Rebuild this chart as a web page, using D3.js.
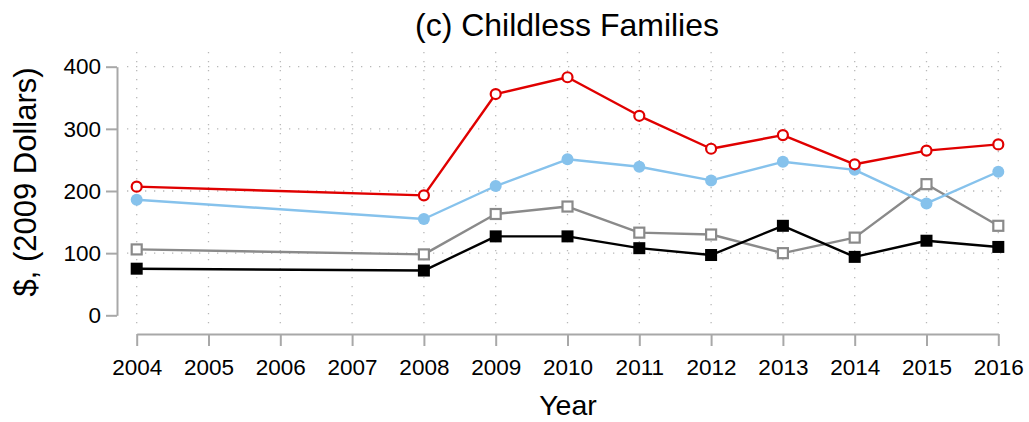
<!DOCTYPE html>
<html>
<head>
<meta charset="utf-8">
<script src="https://cdn.jsdelivr.net/npm/d3@7"></script>
<style>
  html, body { margin: 0; padding: 0; background: #fff; }
  svg { display: block; font-family: "Liberation Sans", Arial, sans-serif; }
</style>
</head>
<body>
<svg id="chart" width="1029" height="422"></svg>
<script>
// Years on the x axis (ticks) and years with observations
const tickYears = [2004, 2005, 2006, 2007, 2008, 2009, 2010, 2011, 2012, 2013, 2014, 2015, 2016];
const years = [2004, 2008, 2009, 2010, 2011, 2012, 2013, 2014, 2015, 2016];
const yTicks = [0, 100, 200, 300, 400];

// Series values, $ (2009 dollars)
const redSeries   = [207, 193, 356, 383, 321, 268, 290, 243, 265, 275];
const blueSeries  = [186, 155, 208, 251, 239, 217, 247, 234, 180, 231];
const graySeries  = [106,  98, 163, 175, 133, 130, 100, 125, 211, 144];
const blackSeries = [ 75,  72, 127, 127, 108,  97, 144,  94, 120, 110];

const series = [
  { values: graySeries,  color: "#8a8a8a", marker: "squareOpen" },
  { values: blackSeries, color: "#000000", marker: "squareFilled" },
  { values: blueSeries,  color: "#86c2ec", marker: "circleFilled" },
  { values: redSeries,   color: "#e00000", marker: "circleOpen" }
];

const svg = d3.select("#chart");

const x = d3.scaleLinear().domain([2004, 2016]).range([136.7, 998.3]);
const y = d3.scaleLinear().domain([0, 400]).range([315.3, 66.7]);

// Dotted grid
const grid = svg.append("g");
grid.selectAll("line.v").data(tickYears).join("line")
  .attr("x1", d => x(d)).attr("x2", d => x(d))
  .attr("y1", 52).attr("y2", 328)
  .attr("stroke", "#b8b8b8").attr("stroke-width", 1.3)
  .attr("stroke-dasharray", "1.3,7.7");
grid.selectAll("line.h").data(yTicks.filter(d => d > 0)).join("line")
  .attr("x1", 127).attr("x2", 1006)
  .attr("y1", d => y(d)).attr("y2", d => y(d))
  .attr("stroke", "#b8b8b8").attr("stroke-width", 1.3)
  .attr("stroke-dasharray", "1.3,7.7");

// Axes
const axisColor = "#a8a8a8";
const yAxis = svg.append("g").attr("transform", "translate(117,0)")
  .call(d3.axisLeft(y).tickValues(yTicks).tickSize(11).tickPadding(5).tickSizeOuter(0));
const xAxis = svg.append("g").attr("transform", "translate(0,334)")
  .call(d3.axisBottom(x).tickValues(tickYears).tickFormat(d3.format("d")).tickSize(12).tickPadding(13).tickSizeOuter(0));
[yAxis, xAxis].forEach(a => {
  a.select(".domain").attr("stroke", axisColor).attr("stroke-width", 2);
  a.selectAll(".tick line").attr("stroke", axisColor).attr("stroke-width", 2);
  a.selectAll(".tick text").attr("fill", "#000").style("font-size", "22.5px")
    .style("font-family", "'Liberation Sans', Arial, sans-serif");
});
xAxis.selectAll(".tick text").attr("dy", "0.71em");

// Lines and markers
const line = d3.line().x((d, i) => x(years[i])).y(d => y(d));
series.forEach(s => {
  const g = svg.append("g");
  g.append("path").datum(s.values)
    .attr("d", line).attr("fill", "none")
    .attr("stroke", s.color).attr("stroke-width", 2.4)
    .attr("stroke-linejoin", "round");
  const pts = g.selectAll(".pt").data(s.values).join("g")
    .attr("transform", (d, i) => `translate(${x(years[i])},${y(d)})`);
  if (s.marker === "circleFilled") {
    pts.append("circle").attr("r", 6).attr("fill", s.color);
  } else if (s.marker === "circleOpen") {
    pts.append("circle").attr("r", 5).attr("fill", "#fff")
      .attr("stroke", s.color).attr("stroke-width", 2.2);
  } else if (s.marker === "squareFilled") {
    pts.append("rect").attr("x", -6).attr("y", -6).attr("width", 12).attr("height", 12)
      .attr("fill", s.color);
  } else {
    pts.append("rect").attr("x", -5).attr("y", -5).attr("width", 10).attr("height", 10)
      .attr("fill", "#fff").attr("stroke", s.color).attr("stroke-width", 2.2);
  }
});

// Titles
svg.append("text").attr("x", 567).attr("y", 36).attr("text-anchor", "middle")
  .style("font-size", "32px").attr("fill", "#000").text("(c) Childless Families");
svg.append("text").attr("x", 568).attr("y", 415).attr("text-anchor", "middle")
  .style("font-size", "28.5px").attr("fill", "#000").text("Year");
svg.append("text").attr("transform", "translate(36,182) rotate(-90)")
  .attr("text-anchor", "middle")
  .style("font-size", "31px").attr("fill", "#000").text("$, (2009 Dollars)");
</script>
</body>
</html>
